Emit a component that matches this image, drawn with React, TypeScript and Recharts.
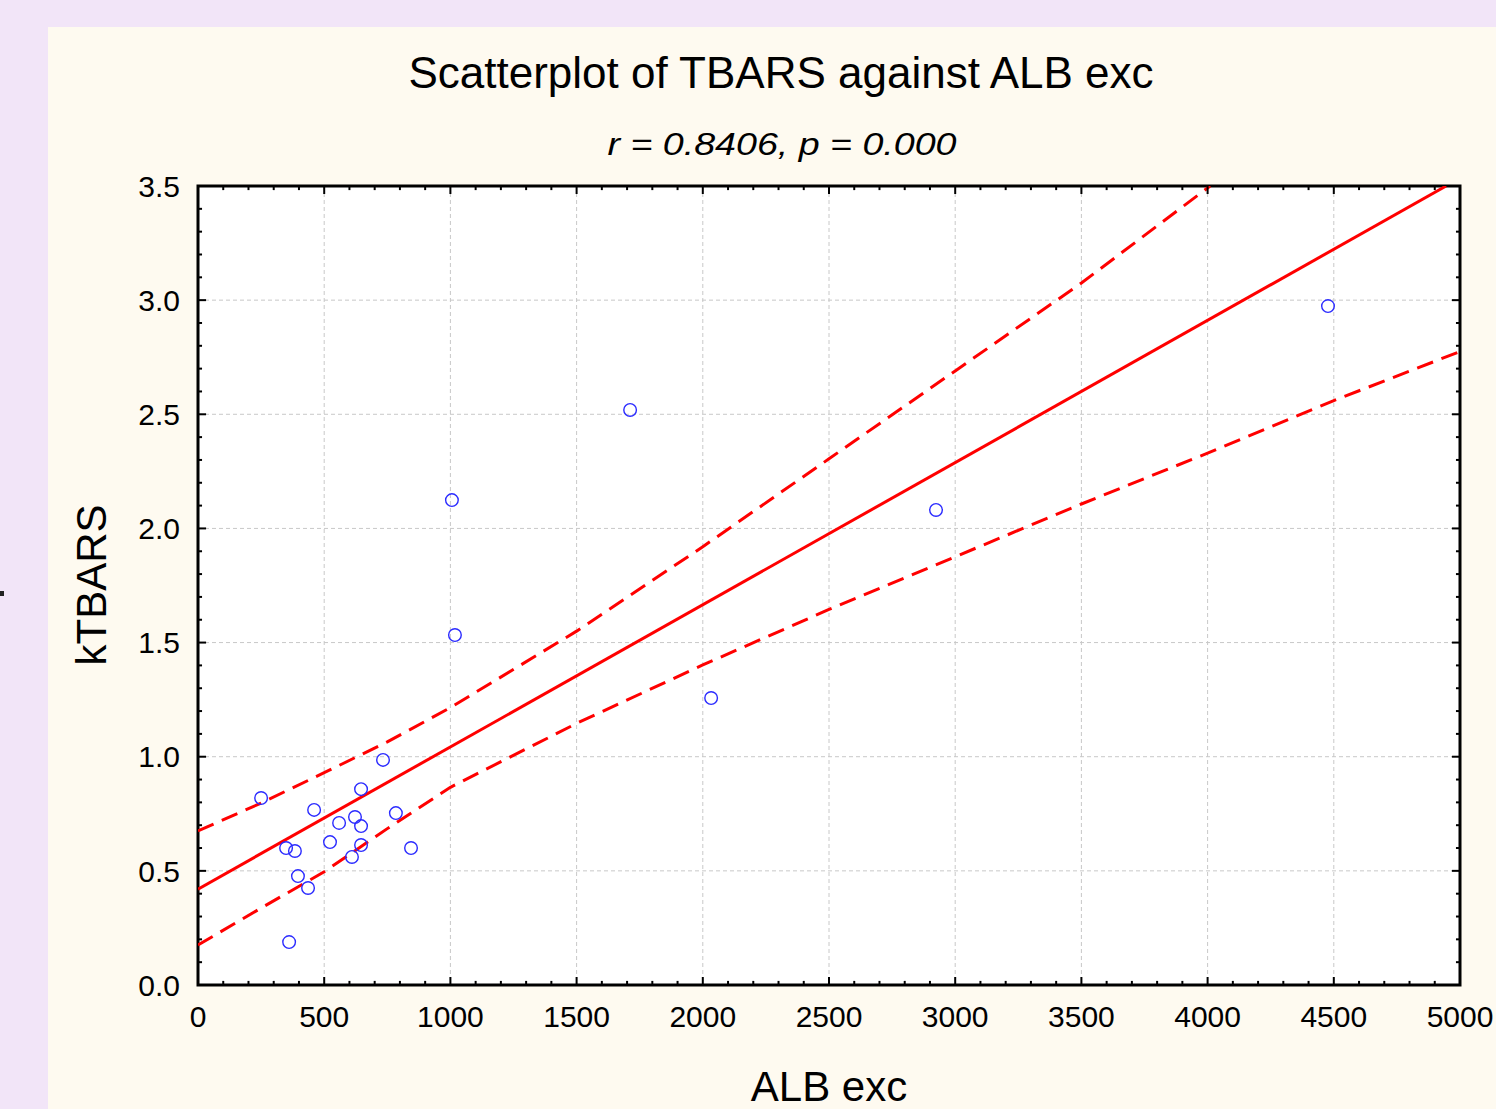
import React from 'react';
import {
    ComposedChart,
    Scatter,
    Line,
    XAxis,
    YAxis,
    CartesianGrid,
    ReferenceLine,
    ReferenceArea,
} from 'recharts';

// observed points (ALB exc, kTBARS)
const albExc = [250, 349, 384, 396, 361, 436, 460, 523, 559, 610, 622, 646, 646, 646, 733, 784, 844, 1006, 1018, 1712, 2033, 2924, 4477];
const kTbars = [0.819, 0.600, 0.587, 0.477, 0.188, 0.425, 0.767, 0.626, 0.710, 0.561, 0.736, 0.696, 0.613, 0.858, 0.986, 0.753, 0.600, 2.124, 1.533, 2.519, 1.257, 2.081, 2.974];

// fitted line, read at its two ends
const fitX = [0, 4945];
const fitY = [0.42, 3.5];

// 95% band
const upperX = [0, 250, 500, 750, 1000, 1500, 2000, 2500, 3000, 3500, 4010];
const upperY = [0.675, 0.797, 0.930, 1.065, 1.215, 1.550, 1.920, 2.305, 2.690, 3.075, 3.5];
const lowerX = [0, 250, 500, 750, 1000, 1500, 2000, 2500, 3000, 3500, 4000, 4500, 5000];
const lowerY = [0.175, 0.337, 0.496, 0.685, 0.866, 1.146, 1.402, 1.645, 1.876, 2.107, 2.330, 2.560, 2.775];

const xTicks = [0, 500, 1000, 1500, 2000, 2500, 3000, 3500, 4000, 4500, 5000];
const yTicks = [0, 0.5, 1.0, 1.5, 2.0, 2.5, 3.0, 3.5];
const xMinor = Array.from({ length: 51 }, (_, i) => i * 100);
const yMinor = Array.from({ length: 36 }, (_, i) => Math.round(i * 10) / 100);

const points = albExc.map((x, i) => ({ x, y: kTbars[i] }));
const fit = fitX.map((x, i) => ({ x, y: fitY[i] }));
const upper = upperX.map((x, i) => ({ x, y: upperY[i] }));
const lower = lowerX.map((x, i) => ({ x, y: lowerY[i] }));

const X_MAX = 5000;
const Y_MAX = 3.5;
// inward tick lengths in data units (about 8px / 4px)
const xTickLen = (major: boolean) => (major ? 0.035 : 0.018);
const yTickLen = (major: boolean) => (major ? 32 : 16);

const FONT = '"Liberation Sans", Arial, sans-serif';

const Ring = (props: any) => (
    <circle cx={props.cx} cy={props.cy} r={6.3} fill="none" stroke="#2b2bff" strokeWidth={1.4} />
);

export default function App() {
    const tickMarks: React.ReactNode[] = [];
    xMinor.forEach((v) => {
        const len = xTickLen(v % 500 === 0);
        tickMarks.push(
            <ReferenceLine key={`b${v}`} segment={[{ x: v, y: 0 }, { x: v, y: len }]} stroke="#000" strokeWidth={2} ifOverflow="visible" />,
            <ReferenceLine key={`t${v}`} segment={[{ x: v, y: Y_MAX }, { x: v, y: Y_MAX - len }]} stroke="#000" strokeWidth={2} ifOverflow="visible" />
        );
    });
    yMinor.forEach((v) => {
        const len = yTickLen(Math.round(v * 10) % 5 === 0);
        tickMarks.push(
            <ReferenceLine key={`l${v}`} segment={[{ x: 0, y: v }, { x: len, y: v }]} stroke="#000" strokeWidth={2} ifOverflow="visible" />,
            <ReferenceLine key={`r${v}`} segment={[{ x: X_MAX, y: v }, { x: X_MAX - len, y: v }]} stroke="#000" strokeWidth={2} ifOverflow="visible" />
        );
    });

    return (
        <div style={{ position: 'absolute', left: 0, top: 0, width: 1496, height: 1109, background: '#f2e5f8', overflow: 'hidden', fontFamily: FONT }}>
            <div style={{ position: 'absolute', left: 48, top: 27, width: 1448, height: 1082, background: '#fefaf0' }} />
            <div style={{ position: 'absolute', left: 0, top: 591, width: 4, height: 5, background: '#222' }} />
            <div style={{ position: 'absolute', left: 0, top: 0 }}>
                <ComposedChart width={1496} height={1109} margin={{ top: 186, right: 36, bottom: 64, left: 98 }}>
                    <CartesianGrid fill="#ffffff" stroke="#c8c8c8" strokeDasharray="4 3" />

                    <XAxis dataKey="x" type="number" domain={[0, X_MAX]} allowDataOverflow ticks={xTicks} interval={0}
                        height={60} tickSize={0} tickMargin={21} axisLine={false} tickLine={false}
                        tick={{ fill: '#000', fontSize: 30, fontFamily: FONT }} />
                    <YAxis type="number" domain={[0, Y_MAX]} allowDataOverflow ticks={yTicks} interval={0}
                        width={100} tickSize={0} tickMargin={18} axisLine={false} tickLine={false}
                        tickFormatter={(v: number) => v.toFixed(1)}
                        tick={{ fill: '#000', fontSize: 30, fontFamily: FONT }} />

                    <Line data={upper} dataKey="y" type="linear" stroke="#ff0000" strokeWidth={3} strokeDasharray="17 9" dot={false} activeDot={false} isAnimationActive={false} />
                    <Line data={lower} dataKey="y" type="linear" stroke="#ff0000" strokeWidth={3} strokeDasharray="17 9" dot={false} activeDot={false} isAnimationActive={false} />
                    <Line data={fit} dataKey="y" type="linear" stroke="#ff0000" strokeWidth={3} dot={false} activeDot={false} isAnimationActive={false} />
                    <Scatter data={points} dataKey="y" shape={Ring} isAnimationActive={false} />

                    {tickMarks}
                    <ReferenceArea x1={0} x2={X_MAX} y1={0} y2={Y_MAX} fill="none" fillOpacity={0} stroke="#000" strokeWidth={3} ifOverflow="visible" />
                </ComposedChart>
            </div>
            <svg width={1496} height={1109} style={{ position: 'absolute', left: 0, top: 0, pointerEvents: 'none' }}>
                <text x={781} y={88} textAnchor="middle" fontSize={44} fontFamily={FONT} fill="#000">Scatterplot of TBARS against ALB exc</text>
                <text x={782} y={155} textAnchor="middle" fontSize={32} fontStyle="italic" fontFamily={FONT} fill="#000"
                    textLength={349} lengthAdjust="spacingAndGlyphs">r = 0.8406, p = 0.000</text>
                <text x={829} y={1101} textAnchor="middle" fontSize={42} fontFamily={FONT} fill="#000">ALB exc</text>
                <text transform="translate(106,585) rotate(-90)" textAnchor="middle" fontSize={42} fontFamily={FONT} fill="#000">kTBARS</text>
            </svg>
        </div>
    );
}
